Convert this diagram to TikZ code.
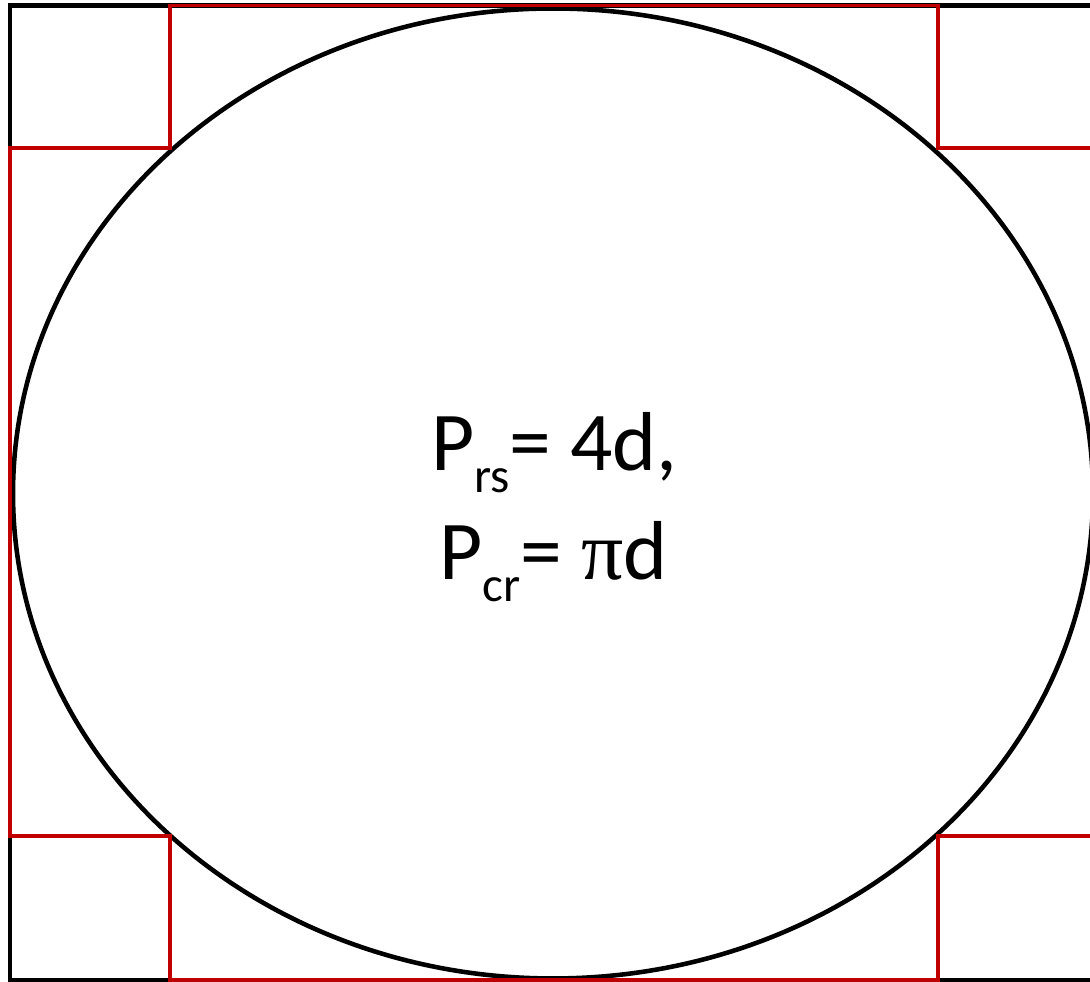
\documentclass[tikz,border=0pt]{standalone}
\usepackage{fontspec}
\setmainfont{Carlito}
\newfontfamily\pifont{Liberation Serif}
\usetikzlibrary{calc}

\definecolor{cutred}{HTML}{C00000}
\newcommand\lowsub[1]{\raisebox{-6pt}{\fontsize{14}{14}\selectfont #1}}

\begin{document}
\begin{tikzpicture}[
  frame/.style={line width=1.3pt,draw=black},
  cutline/.style={line width=1.05pt,draw=cutred,line join=miter},
  formula/.style={font=\fontsize{23.8}{28}\selectfont,anchor=base,inner sep=0pt}
]
\clip (0,0) rectangle (10.90,9.82);
\coordinate (O) at (5.53,4.885);
\draw[frame] (0.10,0.02) rectangle (10.96,9.765);
\draw[frame] (O) ellipse [x radius=5.40,y radius=4.85];

\coordinate (TL) at (1.70,8.34);
\coordinate (TR) at (9.38,8.34);
\coordinate (BL) at (1.70,1.46);
\coordinate (BR) at (9.38,1.46);
\draw[cutline] (0.10,8.34) -- (TL) -- (1.70,9.765) -- (9.38,9.765) -- (TR)
  -- (10.96,8.34) -- (10.96,1.46) -- (BR) -- (9.38,0.02) -- (1.70,0.02)
  -- (BL) -- (0.10,1.46) -- cycle;

\node[formula] (rs) at (5.545,5.11) {P\lowsub{rs}= 4d,};
\node[formula] (cr) at (5.535,4.02) {P\lowsub{cr}= {\pifont π}d};
\end{tikzpicture}
\end{document}
